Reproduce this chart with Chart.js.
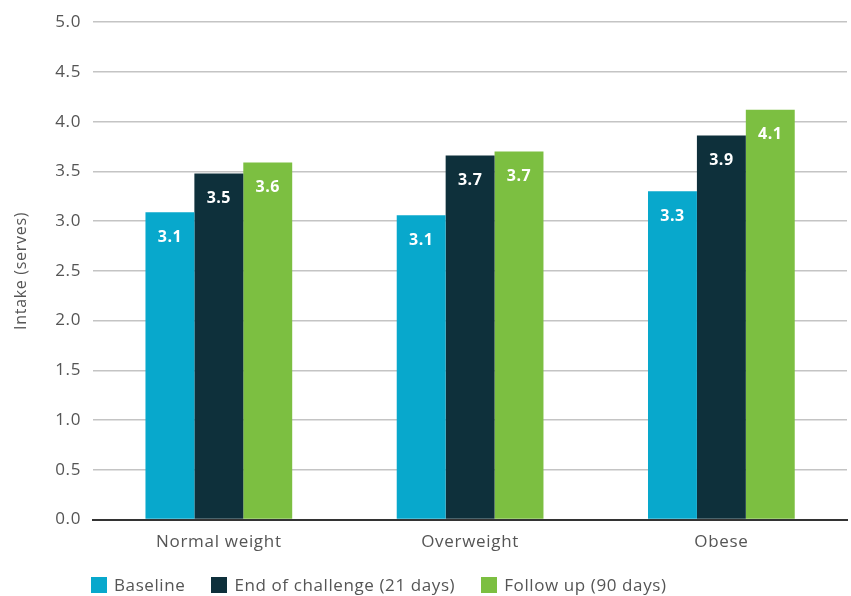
<!DOCTYPE html>
<html>
<head>
<meta charset="utf-8">
<script src="https://cdn.jsdelivr.net/npm/chart.js@4"></script>
<style>
html,body{margin:0;padding:0;background:#fff;}
#wrap{width:851px;height:596px;position:relative;font-family:'Open Sans',sans-serif;}
#legend{position:absolute;left:91px;top:574px;display:flex;align-items:center;font-size:17px;letter-spacing:0.6px;color:#555;white-space:nowrap;line-height:22px;}
#legend .item{display:flex;align-items:center;margin-right:26px;}
#legend .box{width:16px;height:16px;margin-right:7px;}
</style>
</head>
<body>
<div id="wrap"><canvas id="c" width="851" height="596"></canvas><div id="legend"></div></div>
<script>
const categories = ["Normal weight", "Overweight", "Obese"];
const seriesNames = ["Baseline", "End of challenge (21 days)", "Follow up (90 days)"];
const baseline = [3.09, 3.06, 3.30];
const endOfChallenge = [3.48, 3.66, 3.86];
const followUp = [3.59, 3.70, 4.12];
const colors = ["#08a8cc", "#0e303b", "#7cbf41"];

const FONT = "'Open Sans', sans-serif";

const spacingPlugin = {
  id: 'spacing',
  beforeDraw(chart) { chart.ctx.letterSpacing = '0.7px'; },
  beforeLayout(chart) { chart.ctx.letterSpacing = '0.7px'; }
};

const labelPlugin = {
  id: 'barLabels',
  afterDatasetsDraw(chart) {
    const ctx = chart.ctx;
    ctx.save();
    ctx.fillStyle = '#ffffff';
    ctx.font = "bold 16px " + FONT;
    ctx.letterSpacing = '0.5px';
    ctx.textAlign = 'center';
    ctx.textBaseline = 'middle';
    chart.data.datasets.forEach((ds, i) => {
      const meta = chart.getDatasetMeta(i);
      meta.data.forEach((bar, j) => {
        ctx.fillText(ds.data[j].toFixed(1), bar.x, bar.y + 25);
      });
    });
    ctx.restore();
  }
};

const chart = new Chart(document.getElementById('c'), {
  type: 'bar',
  data: {
    labels: categories,
    datasets: [
      { label: seriesNames[0], data: baseline, backgroundColor: colors[0] },
      { label: seriesNames[1], data: endOfChallenge, backgroundColor: colors[1] },
      { label: seriesNames[2], data: followUp, backgroundColor: colors[2] }
    ]
  },
  options: {
    responsive: false,
    animation: false,
    devicePixelRatio: 1,
    layout: { padding: { left: 8, right: 4, top: 6, bottom: 32 } },
    datasets: { bar: { categoryPercentage: 0.584, barPercentage: 1.0 } },
    plugins: {
      legend: { display: false },
      tooltip: { enabled: false }
    },
    scales: {
      x: {
        grid: { display: false, drawTicks: false },
        border: { color: '#333', width: 2 },
        ticks: { color: '#555', font: { family: FONT, size: 17 }, padding: 12 }
      },
      y: {
        min: 0, max: 5,
        ticks: { stepSize: 0.5, color: '#555', font: { family: FONT, size: 17 }, padding: 12,
          callback: v => v.toFixed(1) },
        grid: { color: '#c4c4c4', lineWidth: 1.5, drawTicks: false },
        border: { display: false },
        title: { display: true, text: 'Intake (serves)', color: '#555', font: { family: FONT, size: 16 }, padding: { top: 4, bottom: 12 } }
      }
    }
  },
  plugins: [spacingPlugin, labelPlugin]
});

const leg = document.getElementById('legend');
seriesNames.forEach((n, i) => {
  const it = document.createElement('div');
  it.className = 'item';
  const b = document.createElement('div');
  b.className = 'box';
  b.style.background = colors[i];
  const t = document.createElement('span');
  t.textContent = n;
  it.appendChild(b); it.appendChild(t);
  leg.appendChild(it);
});
</script>
</body>
</html>
